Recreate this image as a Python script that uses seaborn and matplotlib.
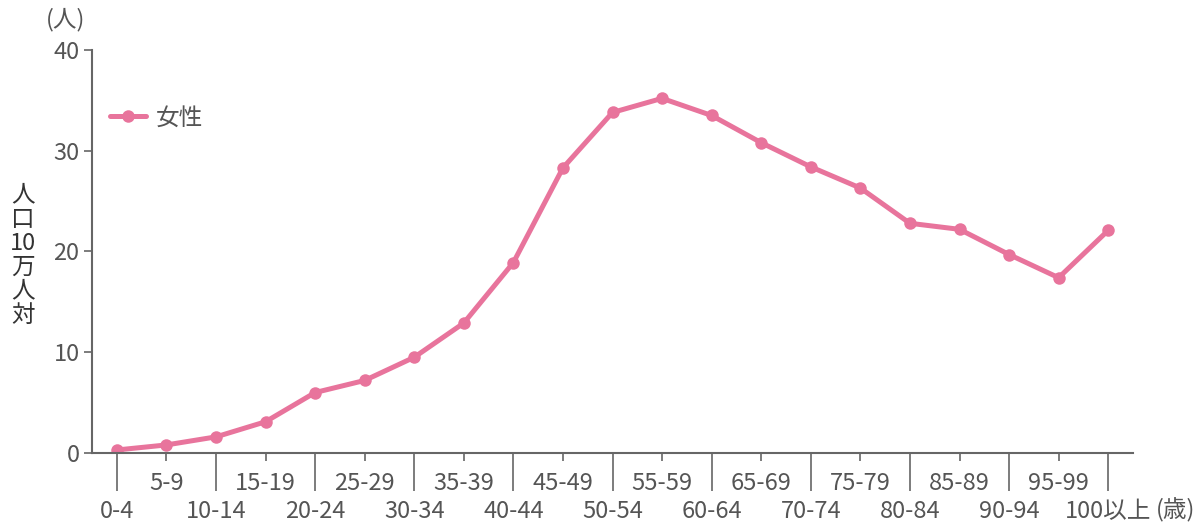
import matplotlib
matplotlib.use("Agg")
import matplotlib.pyplot as plt
import seaborn as sns
import pandas as pd

categories = ["0-4", "5-9", "10-14", "15-19", "20-24", "25-29", "30-34", "35-39",
              "40-44", "45-49", "50-54", "55-59", "60-64", "65-69", "70-74", "75-79",
              "80-84", "85-89", "90-94", "95-99", "100以上"]
female = [0.3, 0.8, 1.6, 3.1, 6.0, 7.2, 9.5, 12.9, 18.9, 28.3, 33.8, 35.2, 33.5,
          30.8, 28.4, 26.3, 22.8, 22.2, 19.7, 17.4, 22.1]
y_ticks = [0, 10, 20, 30, 40]
series_name = "女性"
ylabel_parts = ["人", "口", "10", "万", "人", "対"]

sns.set_theme(style="white")
plt.rcParams['font.family'] = ['Noto Sans CJK JP', 'DejaVu Sans']

PINK = "#E8749C"
TXT = "#555555"
AX = "#666666"
FS = 17

df = pd.DataFrame({"age": categories, "rate": female, "sex": series_name})
df["pos"] = range(len(categories))

fig = plt.figure(figsize=(12, 5.3), dpi=100)
ax = fig.add_axes([92/1200, 1-453/530, (1133-92)/1200, (453-50)/530])

sns.lineplot(data=df, x="pos", y="rate", hue="sex", palette=[PINK], ax=ax,
             linewidth=3.6, marker="o", markersize=9, markeredgewidth=0)

ax.set_xlim(-0.5, len(categories)-0.5)
ax.set_ylim(0, 40)
ax.set_yticks(y_ticks)
ax.set_yticklabels([str(v) for v in y_ticks])
ax.tick_params(axis="y", length=6, width=1.2, color=AX, labelsize=FS,
               labelcolor=TXT, pad=3, left=True)

even = list(range(0, len(categories), 2))
odd = list(range(1, len(categories), 2))
ax.set_xticks(even)
ax.set_xticklabels([categories[i] for i in even])
ax.set_xticks(odd, minor=True)
ax.set_xticklabels([categories[i] for i in odd], minor=True)
ax.tick_params(axis="x", which="major", length=27, width=1.2, color=AX,
               labelsize=FS, labelcolor=TXT, pad=7, bottom=True)
ax.tick_params(axis="x", which="minor", length=6, width=1.2, color=AX,
               labelsize=FS, labelcolor=TXT, pad=8, bottom=True)

for s in ["top", "right"]:
    ax.spines[s].set_visible(False)
for s in ["left", "bottom"]:
    ax.spines[s].set_color(AX)
    ax.spines[s].set_linewidth(1.5)
ax.set_xlabel("")
ax.set_ylabel("")

leg = ax.legend(loc="upper left", bbox_to_anchor=(-0.003, 0.912), frameon=False,
                fontsize=FS, handlelength=1.5, handletextpad=0.45)
for t in leg.get_texts():
    t.set_color(TXT)

fig.text(66/1200, 1-20/530, "(人)", ha="center", va="center", fontsize=FS, color=TXT)
fig.text(1176/1200, 1-510/530, "(歳)", ha="center", va="center", fontsize=FS, color=TXT)
for i, part in enumerate(ylabel_parts):
    fig.text(23/1200, 1-(195 + i*24)/530, part, ha="center", va="center",
             fontsize=17, color="#333333")

fig.savefig("out.png", dpi=100)
